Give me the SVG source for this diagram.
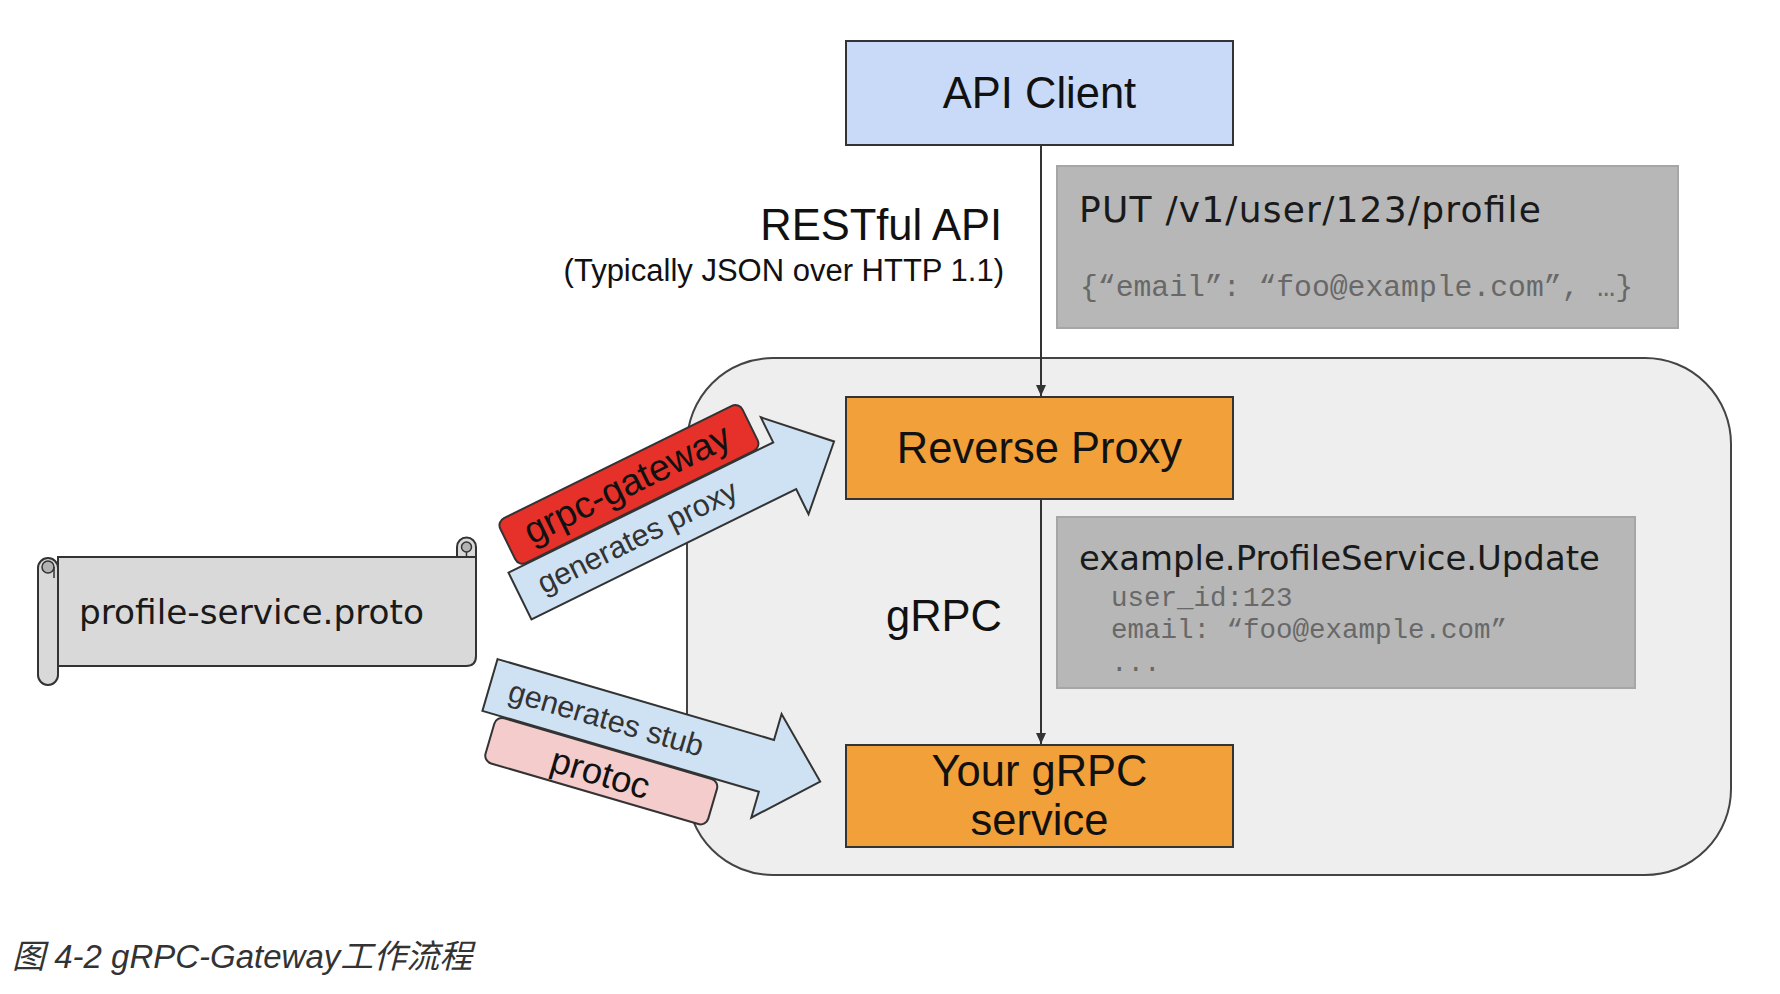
<svg xmlns="http://www.w3.org/2000/svg" width="1780" height="994" viewBox="0 0 1780 994">
<defs>
<style>
.sans{font-family:"Liberation Sans",Arial,sans-serif;fill:#111}
.dv{font-family:"DejaVu Sans",Verdana,sans-serif;fill:#1a1a1a}
.mono{font-family:"Liberation Mono","Courier New",monospace;fill:#686868}
.box{stroke:#333;stroke-width:2}
.code{fill:#b7b7b7;stroke:#a6a6a6;stroke-width:2}
.conn{stroke:#333;stroke-width:2;fill:none}
.big{font-size:43.5px}
.arrow{fill:#cfe2f3;stroke:#333;stroke-width:2;stroke-linejoin:miter}
.scroll{fill:#d9d9d9;stroke:#333;stroke-width:2}
</style>
<marker id="ah" markerUnits="userSpaceOnUse" markerWidth="11" markerHeight="10" refX="11" refY="5" orient="auto" viewBox="0 0 11 10">
<path d="M0,0 L11,5 L0,10 Z" fill="#333"/>
</marker>
</defs>
<rect width="1780" height="994" fill="#ffffff"/>

<g id="container">
<rect x="687" y="358" width="1044" height="517" rx="86" ry="86" fill="#eeeeee" stroke="#444" stroke-width="2"/>
</g>

<g id="api-client">
<rect class="box" x="846" y="41" width="387" height="104" fill="#c9daf8"/>
<text class="sans big" x="1039.5" y="108" text-anchor="middle">API Client</text>
</g>

<g id="restful-label">
<text class="sans big" x="1002" y="240" text-anchor="end">RESTful API</text>
<text class="sans" x="1004" y="281" text-anchor="end" font-size="31">(Typically JSON over HTTP 1.1)</text>
</g>

<g id="put-request">
<rect class="code" x="1057" y="166" width="621" height="162"/>
<text class="dv" x="1079" y="222" font-size="36" textLength="462" lengthAdjust="spacing">PUT /v1/user/123/profile</text>
<text class="mono" x="1080" y="296" font-size="29" textLength="553" lengthAdjust="spacingAndGlyphs">{“email”: “foo@example.com”, …}</text>
</g>

<g id="reverse-proxy">
<rect class="box" x="846" y="397" width="387" height="102" fill="#f2a03a"/>
<text class="sans big" x="1039.5" y="463" text-anchor="middle">Reverse Proxy</text>
</g>

<g id="grpc-label">
<text class="sans big" x="1002" y="631" text-anchor="end">gRPC</text>
</g>

<g id="grpc-message">
<rect class="code" x="1057" y="517" width="578" height="171"/>
<text class="dv" x="1079" y="570" font-size="33.9">example.ProfileService.Update</text>
<text class="mono" x="1111" y="606" font-size="27.5">user_id:123</text>
<text class="mono" x="1111" y="638" font-size="27.5">email: “foo@example.com”</text>
<text class="mono" x="1111" y="671" font-size="27.5">...</text>
</g>

<g id="grpc-service">
<rect class="box" x="846" y="745" width="387" height="102" fill="#f2a03a"/>
<text class="sans big" x="1039.5" y="786" text-anchor="middle">Your gRPC</text>
<text class="sans big" x="1039.5" y="835" text-anchor="middle">service</text>
</g>

<g id="connectors">
<line class="conn" x1="1041" y1="145" x2="1041" y2="396" marker-end="url(#ah)"/>
<line class="conn" x1="1041" y1="499" x2="1041" y2="744" marker-end="url(#ah)"/>
</g>

<g id="proto-file">
<path class="scroll" d="M58,557 H476 V656 Q476,666 466,666 H58 Z"/>
<path class="scroll" d="M457,557 V547 A9.5,9.5 0 0 1 476,547 V557 Z"/>
<circle cx="466.5" cy="547" r="5" fill="#b3b3b3" stroke="#333" stroke-width="1.5"/>
<line x1="466.5" y1="552" x2="466.5" y2="557" stroke="#333" stroke-width="1.5"/>
<rect class="scroll" x="38" y="558" width="20" height="127" rx="10" ry="10"/>
<circle cx="48" cy="567" r="6" fill="#b3b3b3" stroke="#333" stroke-width="1.5"/>
<line x1="54" y1="567" x2="54" y2="578" stroke="#333" stroke-width="1.5"/>
<text class="dv" x="79" y="624" font-size="34.3">profile-service.proto</text>
</g>

<g id="generates-proxy" transform="translate(520,596) rotate(-26.2)">
<polygon class="arrow" points="0,-26 295,-26 295,-54 350,0 295,54 295,26 0,26"/>
<text class="sans" x="22" y="9" font-size="30.5" style="fill:#333">generates proxy</text>
<rect x="12" y="-77" width="270" height="50" rx="8" ry="8" fill="#e6302a" stroke="#333" stroke-width="2"/>
<text class="sans" x="33" y="-41" font-size="37.5">grpc-gateway</text>
</g>

<g id="generates-stub" transform="translate(490,685) rotate(16.3)">
<polygon class="arrow" points="0,-27 288,-27 288,-54 344,0 288,54 288,27 0,27"/>
<text class="sans" x="20" y="10" font-size="30.5" style="fill:#333">generates stub</text>
<rect x="15" y="28" width="232" height="47" rx="8" ry="8" fill="#f4cccc" stroke="#333" stroke-width="2"/>
<text class="sans" x="80" y="66" font-size="36.5">protoc</text>
</g>

<g id="caption">
<text x="12" y="968" font-size="33" font-style="italic" fill="#333" font-family="'Liberation Sans','Noto Sans CJK SC',sans-serif">图 4-2 gRPC-Gateway工作流程</text>
</g>
</svg>
